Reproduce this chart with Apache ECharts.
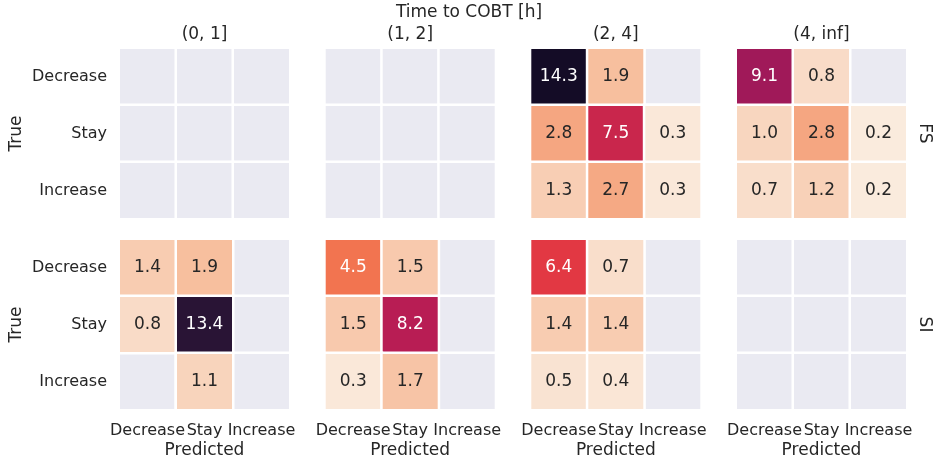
<!DOCTYPE html>
<html>
<head>
<meta charset="utf-8">
<script src="https://cdn.jsdelivr.net/npm/echarts@6/dist/echarts.min.js"></script>
<style>
html,body{margin:0;padding:0;background:#fff;}
#chart{width:933px;height:464px;}
</style>
</head>
<body>
<div id="chart"></div>
<script>
// ---- data ----
const predictedLabels = ['Decrease', 'Stay', 'Increase'];
const trueLabels = ['Decrease', 'Stay', 'Increase'];
const timeBins = ['(0, 1]', '(1, 2]', '(2, 4]', '(4, inf]'];
const groupLabels = ['FS', 'SI'];
const supTitle = 'Time to COBT [h]';
const xName = 'Predicted';
const yName = 'True';

// rows = true class, cols = predicted class; null = no data
const fs01   = [[null, null, null], [null, null, null], [null, null, null]];
const fs12   = [[null, null, null], [null, null, null], [null, null, null]];
const fs24   = [[14.3, 1.9, null], [2.8, 7.5, 0.3], [1.3, 2.7, 0.3]];
const fs4inf = [[9.1, 0.8, null], [1.0, 2.8, 0.2], [0.7, 1.2, 0.2]];
const si01   = [[1.4, 1.9, null], [0.8, 13.4, null], [null, 1.1, null]];
const si12   = [[4.5, 1.5, null], [1.5, 8.2, null], [0.3, 1.7, null]];
const si24   = [[6.4, 0.7, null], [1.4, 1.4, null], [0.5, 0.4, null]];
const si4inf = [[null, null, null], [null, null, null], [null, null, null]];

const panels = [[fs01, fs12, fs24, fs4inf], [si01, si12, si24, si4inf]];

// colour scale range
const colorMin = 0.2;
const colorMax = 15;

// ---- style ----
const FONT = 'DejaVu Sans';
const TXT = '#262626';
const rocketR = ['#faebdd', '#f6b48f', '#f37651', '#e13342', '#ad1759', '#701f57', '#35193e', '#03051a'];
const colLefts = [119, 324.7, 530.3, 736];
const rowTops = [48, 239];
const GW = 171, GH = 171;

function hexToRgb(h) { return [1, 3, 5].map(i => parseInt(h.substr(i, 2), 16) / 255); }
function lum(rgb) {
  const c = rgb.map(v => v <= 0.03928 ? v / 12.92 : Math.pow((v + 0.055) / 1.055, 2.4));
  return 0.2126 * c[0] + 0.7152 * c[1] + 0.0722 * c[2];
}
function mapColor(v) {
  let t = (v - colorMin) / (colorMax - colorMin);
  t = Math.max(0, Math.min(1, t));
  const n = rocketR.length - 1;
  const i = Math.min(n - 1, Math.floor(t * n));
  const f = t * n - i;
  const a = hexToRgb(rocketR[i]), b = hexToRgb(rocketR[i + 1]);
  return a.map((x, k) => x + (b[k] - x) * f);
}

const grids = [], xAxes = [], yAxes = [], series = [], dataSeriesIdx = [];
const graphics = [];
const titleFont = '17px "' + FONT + '"';

panels.forEach((row, r) => {
  row.forEach((mat, c) => {
    const gi = grids.length;
    grids.push({ left: colLefts[c], top: rowTops[r], width: GW, height: GH, containLabel: false });
    xAxes.push({
      type: 'category', gridIndex: gi, data: predictedLabels,
      axisLine: { show: false }, axisTick: { show: false }, splitLine: { show: false },
      axisLabel: { show: r === 1, interval: 0, margin: 13, fontFamily: FONT, fontSize: 16, color: TXT }
    });
    yAxes.push({
      type: 'category', gridIndex: gi, data: trueLabels, inverse: true,
      axisLine: { show: false }, axisTick: { show: false }, splitLine: { show: false },
      axisLabel: { show: c === 0, interval: 0, margin: 12, fontFamily: FONT, fontSize: 16, color: TXT }
    });
    // background cells (empty look)
    const bg = [];
    for (let i = 0; i < 3; i++) for (let j = 0; j < 3; j++) bg.push([j, i, 0]);
    series.push({
      type: 'heatmap', xAxisIndex: gi, yAxisIndex: gi, data: bg, silent: true,
      itemStyle: { color: '#EAEAF2', borderColor: '#ffffff', borderWidth: 2.5 },
      label: { show: false }, emphasis: { disabled: true }
    });
    const items = [];
    mat.forEach((rowVals, i) => rowVals.forEach((v, j) => {
      if (v === null) return;
      const light = lum(mapColor(v)) > 0.408;
      items.push({ value: [j, i, v], label: { color: light ? TXT : '#ffffff' } });
    }));
    dataSeriesIdx.push(series.length);
    series.push({
      type: 'heatmap', xAxisIndex: gi, yAxisIndex: gi, data: items, silent: true,
      itemStyle: { borderColor: '#ffffff', borderWidth: 2.5 },
      label: {
        show: true, fontFamily: FONT, fontSize: 17,
        formatter: p => p.value[2].toFixed(1)
      },
      emphasis: { disabled: true }
    });
    if (r === 0) {
      graphics.push({ type: 'text', x: colLefts[c] + GW / 2, y: 35,
        style: { text: timeBins[c], font: titleFont, fill: TXT, align: 'center', verticalAlign: 'middle' } });
    }
    if (r === 1) {
      graphics.push({ type: 'text', x: colLefts[c] + GW / 2, y: 451,
        style: { text: xName, font: titleFont, fill: TXT, align: 'center', verticalAlign: 'middle' } });
    }
    if (c === 0) {
      graphics.push({ type: 'text', x: 17, y: rowTops[r] + GH / 2, rotation: Math.PI / 2,
        style: { text: yName, font: titleFont, fill: TXT, align: 'center', verticalAlign: 'middle' } });
    }
  });
  graphics.push({ type: 'text', x: 924, y: rowTops[r] + GH / 2, rotation: -Math.PI / 2,
    style: { text: groupLabels[r], font: titleFont, fill: TXT, align: 'center', verticalAlign: 'middle' } });
});

graphics.push({ type: 'text', x: 469, y: 12.5,
  style: { text: supTitle, font: titleFont, fill: TXT, align: 'center', verticalAlign: 'middle' } });

const chart = echarts.init(document.getElementById('chart'), null, { renderer: 'canvas' });
chart.setOption({
  animation: false,
  backgroundColor: '#ffffff',
  grid: grids, xAxis: xAxes, yAxis: yAxes,
  visualMap: {
    type: 'continuous', show: false, min: colorMin, max: colorMax, dimension: 2,
    seriesIndex: dataSeriesIdx, inRange: { color: rocketR }
  },
  series: series,
  graphic: graphics
});
</script>
</body>
</html>
